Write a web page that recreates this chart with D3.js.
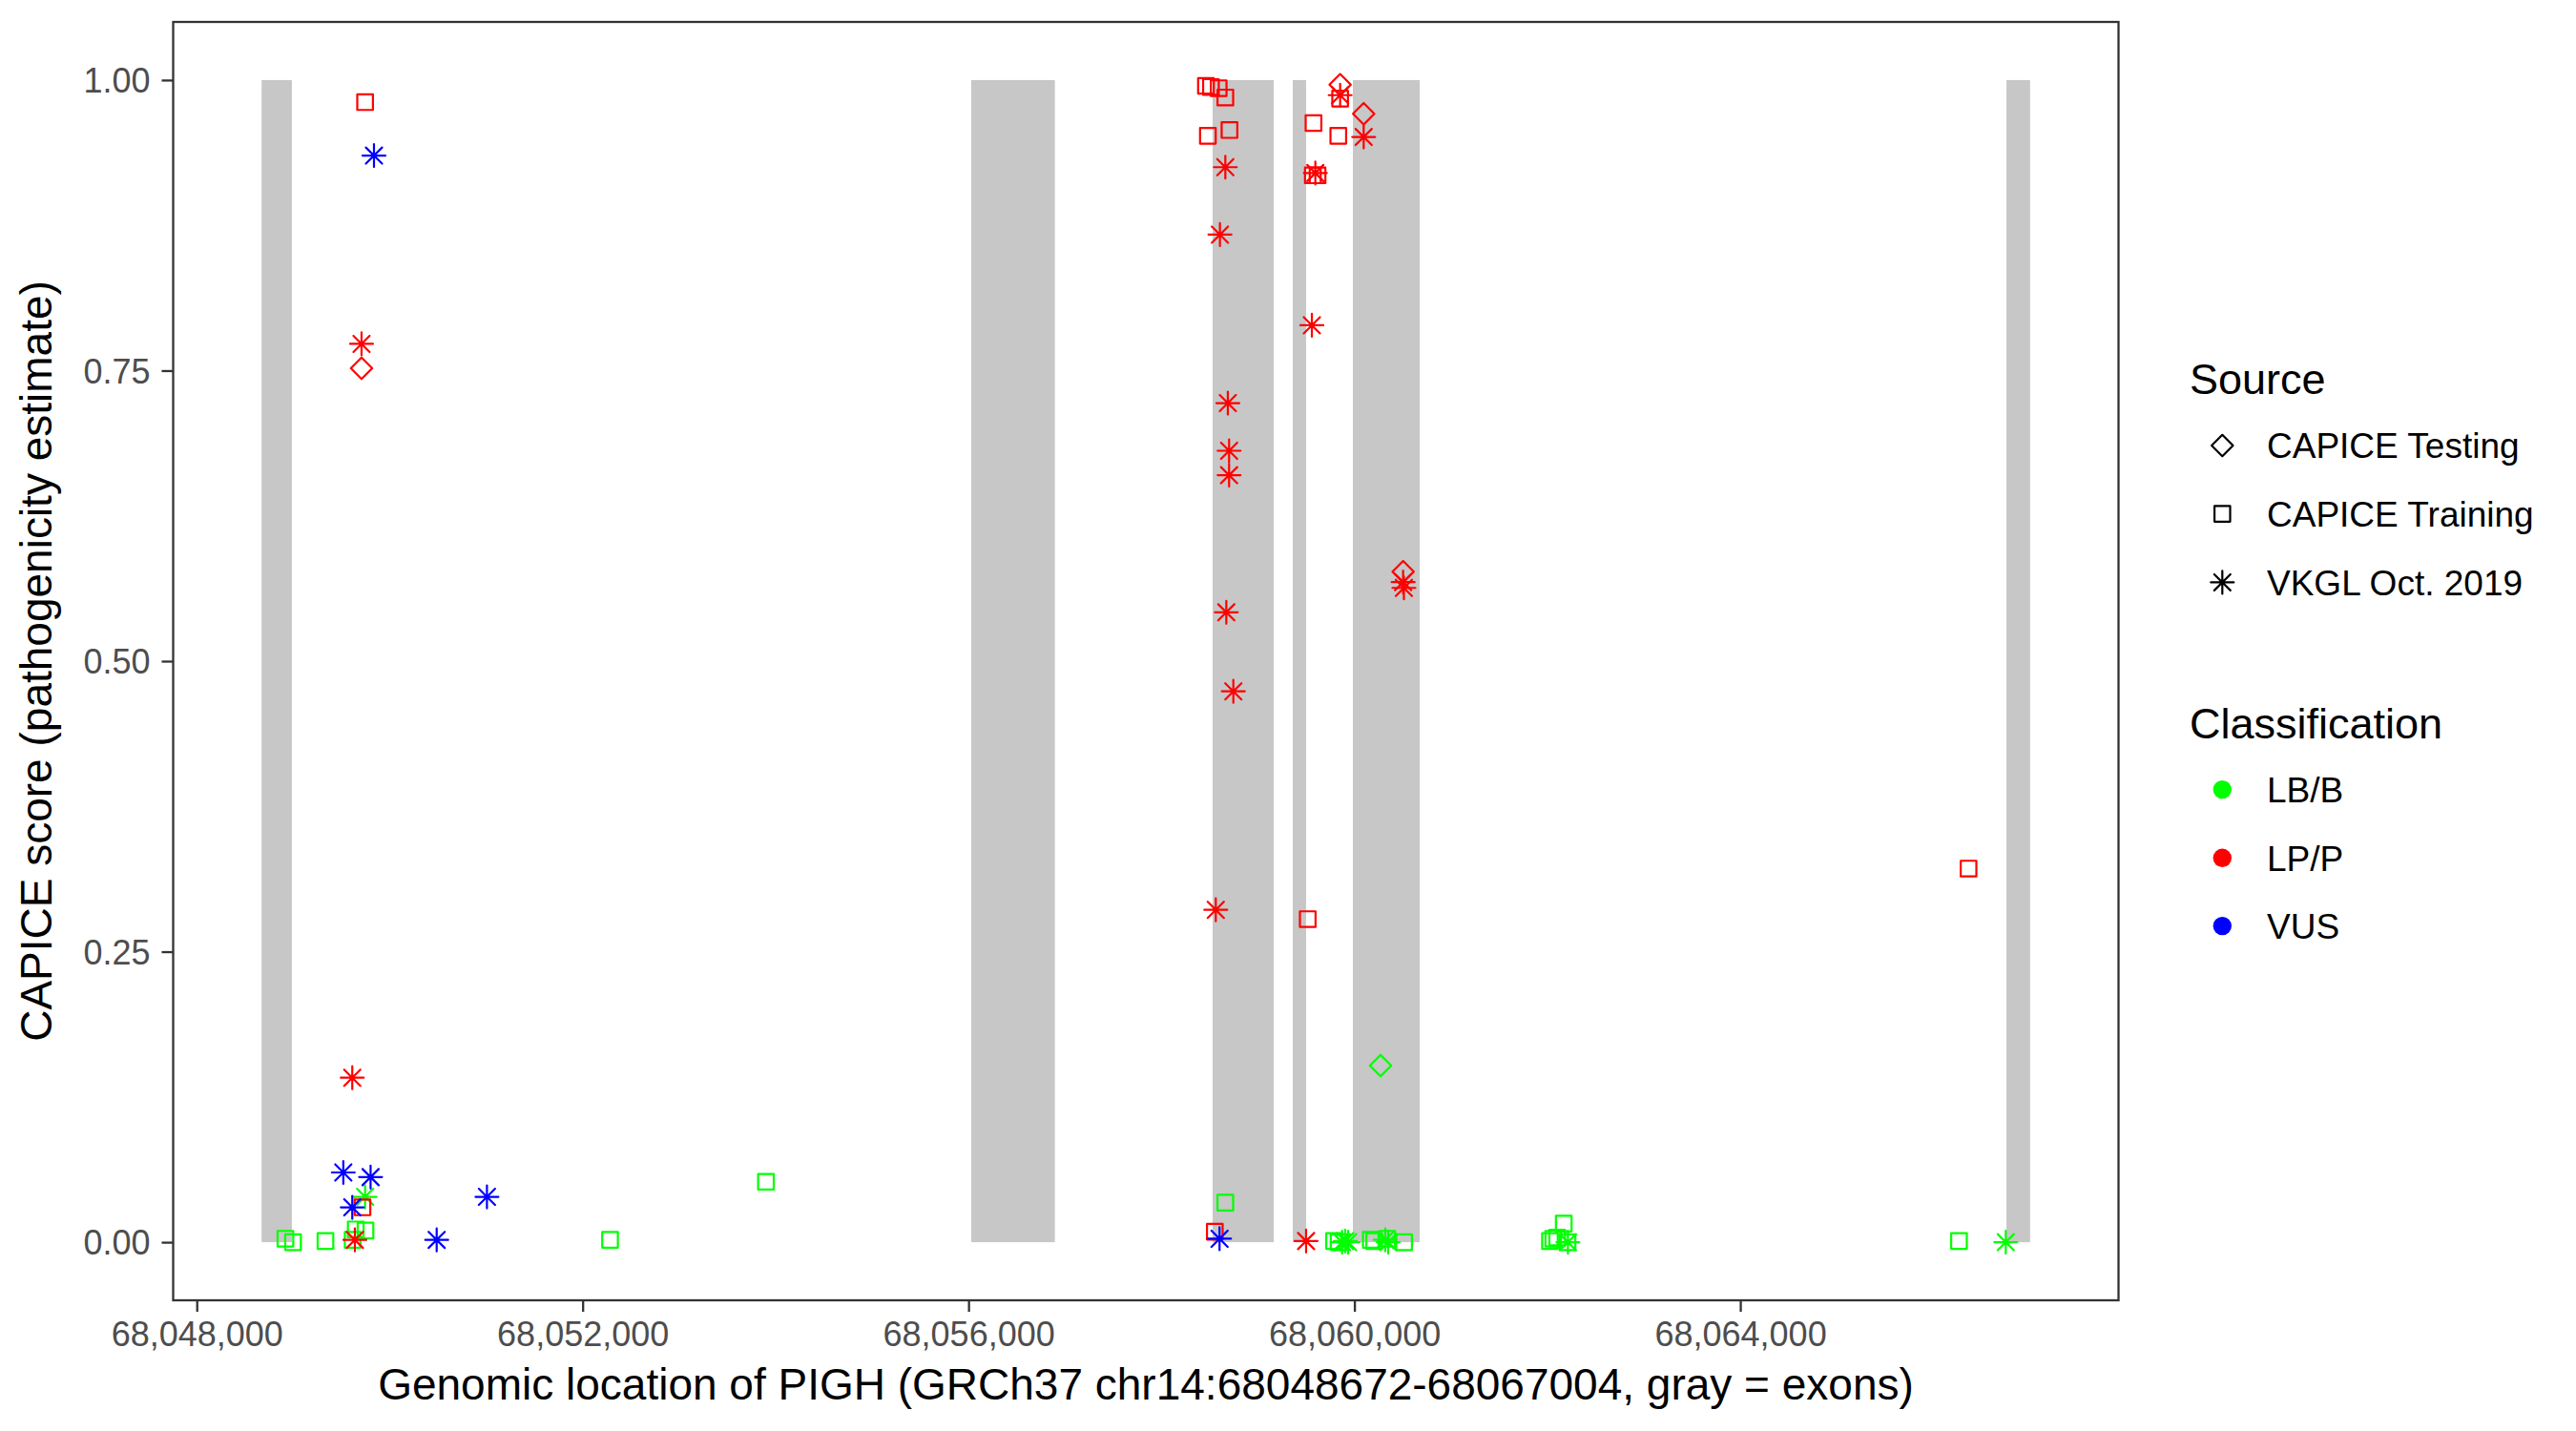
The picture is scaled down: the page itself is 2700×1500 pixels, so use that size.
<!DOCTYPE html>
<html>
<head>
<meta charset="utf-8">
<script src="https://cdn.jsdelivr.net/npm/d3@7"></script>
<style>
  html, body { margin: 0; padding: 0; background: #ffffff; }
  svg { display: block; font-family: "Liberation Sans", Arial, Helvetica, sans-serif; }
</style>
</head>
<body>
<svg id="chart" width="2700" height="1500"></svg>
<script>
// ---------------- data ----------------
const geneStart = 68048672;
const geneEnd = 68067004;

const exonStarts = [68048672, 68056028, 68058530, 68059361, 68059984, 68066759];
const exonEnds   = [68048986, 68056895, 68059163, 68059499, 68060676, 68067004];

const xTicks = [68048000, 68052000, 68056000, 68060000, 68064000];
const yTicks = [0, 0.25, 0.5, 0.75, 1.0];

const sourceLevels = ["CAPICE Testing", "CAPICE Training", "VKGL Oct. 2019"];
const classLevels = ["LB/B", "LP/P", "VUS"];
const classColors = ["#00FF00", "#FF0000", "#0000FF"];

// variants: genomic position, CAPICE score, source, classification
const positions = [
  // LB/B - CAPICE Training
  68048919, 68048998, 68049334, 68049648, 68049749, 68049616, 68052284, 68053900,
  68058662, 68059789, 68059836, 68060170, 68060205, 68060340, 68060515,
  68062027, 68062061, 68062102, 68062170, 68062209, 68066267,
  // LB/B - VKGL
  68049745, 68059872, 68059905, 68059935, 68060320, 68060350, 68062213, 68066752,
  // LB/B - CAPICE Testing
  68060271,
  // LP/P - CAPICE Training
  68049745, 68049718, 68058461, 68058513, 68058593, 68058662, 68058481, 68058705,
  68059576, 68059569, 68059618, 68059852, 68059833, 68059516, 68058553, 68066366,
  // LP/P - VKGL
  68049708, 68049612, 68049639, 68058662, 68058606, 68059559, 68058688, 68058701,
  68058701, 68058672, 68058745, 68059595, 68059852, 68060096, 68060505, 68060513,
  68058563, 68059499,
  // LP/P - CAPICE Testing
  68049708, 68059852, 68060096, 68060505,
  // VUS - VKGL
  68049837, 68049519, 68049802, 68049612, 68050487, 68051008, 68058602
];
const scores = [
  0.003, 0.000, 0.001, 0.011, 0.010, 0.002, 0.002, 0.052,
  0.034, 0.001, 0.000, 0.002, 0.001, 0.003, 0.000,
  0.001, 0.003, 0.004, 0.016, 0.000, 0.001,
  0.039, 0.000, 0.001, 0.000, 0.002, 0.000, 0.000, 0.000,
  0.152,
  0.981, 0.030, 0.995, 0.994, 0.993, 0.985, 0.952, 0.957,
  0.963, 0.918, 0.918, 0.984, 0.952, 0.278, 0.009, 0.3215,
  0.773, 0.1415, 0.002, 0.925, 0.867, 0.789, 0.722, 0.681,
  0.660, 0.542, 0.474, 0.920, 0.987, 0.951, 0.568, 0.563,
  0.286, 0.001,
  0.752, 0.996, 0.971, 0.577,
  0.935, 0.060, 0.056, 0.030, 0.002, 0.039, 0.003
];
const sources = [
  "CAPICE Training","CAPICE Training","CAPICE Training","CAPICE Training","CAPICE Training","CAPICE Training","CAPICE Training","CAPICE Training",
  "CAPICE Training","CAPICE Training","CAPICE Training","CAPICE Training","CAPICE Training","CAPICE Training","CAPICE Training",
  "CAPICE Training","CAPICE Training","CAPICE Training","CAPICE Training","CAPICE Training","CAPICE Training",
  "VKGL Oct. 2019","VKGL Oct. 2019","VKGL Oct. 2019","VKGL Oct. 2019","VKGL Oct. 2019","VKGL Oct. 2019","VKGL Oct. 2019","VKGL Oct. 2019",
  "CAPICE Testing",
  "CAPICE Training","CAPICE Training","CAPICE Training","CAPICE Training","CAPICE Training","CAPICE Training","CAPICE Training","CAPICE Training",
  "CAPICE Training","CAPICE Training","CAPICE Training","CAPICE Training","CAPICE Training","CAPICE Training","CAPICE Training","CAPICE Training",
  "VKGL Oct. 2019","VKGL Oct. 2019","VKGL Oct. 2019","VKGL Oct. 2019","VKGL Oct. 2019","VKGL Oct. 2019","VKGL Oct. 2019","VKGL Oct. 2019",
  "VKGL Oct. 2019","VKGL Oct. 2019","VKGL Oct. 2019","VKGL Oct. 2019","VKGL Oct. 2019","VKGL Oct. 2019","VKGL Oct. 2019","VKGL Oct. 2019",
  "VKGL Oct. 2019","VKGL Oct. 2019",
  "CAPICE Testing","CAPICE Testing","CAPICE Testing","CAPICE Testing",
  "VKGL Oct. 2019","VKGL Oct. 2019","VKGL Oct. 2019","VKGL Oct. 2019","VKGL Oct. 2019","VKGL Oct. 2019","VKGL Oct. 2019"
];
const classes = [
  "LB/B","LB/B","LB/B","LB/B","LB/B","LB/B","LB/B","LB/B",
  "LB/B","LB/B","LB/B","LB/B","LB/B","LB/B","LB/B",
  "LB/B","LB/B","LB/B","LB/B","LB/B","LB/B",
  "LB/B","LB/B","LB/B","LB/B","LB/B","LB/B","LB/B","LB/B",
  "LB/B",
  "LP/P","LP/P","LP/P","LP/P","LP/P","LP/P","LP/P","LP/P",
  "LP/P","LP/P","LP/P","LP/P","LP/P","LP/P","LP/P","LP/P",
  "LP/P","LP/P","LP/P","LP/P","LP/P","LP/P","LP/P","LP/P",
  "LP/P","LP/P","LP/P","LP/P","LP/P","LP/P","LP/P","LP/P",
  "LP/P","LP/P",
  "LP/P","LP/P","LP/P","LP/P",
  "VUS","VUS","VUS","VUS","VUS","VUS","VUS"
];

// ---------------- layout ----------------
const panel = { left: 181.5, right: 2220.5, top: 23, bottom: 1363 };
const svg = d3.select("#chart");

const xPad = (geneEnd - geneStart) * 0.05;
const x = d3.scaleLinear()
  .domain([geneStart - xPad, geneEnd + xPad])
  .range([panel.left, panel.right]);
const y = d3.scaleLinear()
  .domain([-0.05, 1.05])
  .range([panel.bottom, panel.top]);

const color = d3.scaleOrdinal().domain(classLevels).range(classColors);

// custom symbol types (size = radius^2)
const symDiamond = { draw(ctx, size) { const r = Math.sqrt(size);
  ctx.moveTo(0, -r); ctx.lineTo(r, 0); ctx.lineTo(0, r); ctx.lineTo(-r, 0); ctx.closePath(); } };
const symSquare = { draw(ctx, size) { const h = Math.sqrt(size);
  ctx.moveTo(-h, -h); ctx.lineTo(h, -h); ctx.lineTo(h, h); ctx.lineTo(-h, h); ctx.closePath(); } };
const symAsterisk = { draw(ctx, size) { const r = Math.sqrt(size); const d = r / Math.SQRT2;
  ctx.moveTo(-r, 0); ctx.lineTo(r, 0);
  ctx.moveTo(0, -r); ctx.lineTo(0, r);
  ctx.moveTo(-d, -d); ctx.lineTo(d, d);
  ctx.moveTo(-d, d); ctx.lineTo(d, -d); } };

const shapeType = d3.scaleOrdinal().domain(sourceLevels).range([symDiamond, symSquare, symAsterisk]);
const shapeSize = d3.scaleOrdinal().domain(sourceLevels).range([11.2 * 11.2, 8.2 * 8.2, 12 * 12]);
const symbolPath = src => d3.symbol().type(shapeType(src)).size(shapeSize(src))();

// panel background
svg.append("rect")
  .attr("x", panel.left).attr("y", panel.top)
  .attr("width", panel.right - panel.left).attr("height", panel.bottom - panel.top)
  .attr("fill", "#FFFFFF");

// exons
svg.append("g").selectAll("rect")
  .data(d3.range(exonStarts.length))
  .join("rect")
  .attr("x", i => x(exonStarts[i]))
  .attr("width", i => x(exonEnds[i]) - x(exonStarts[i]))
  .attr("y", y(1))
  .attr("height", y(0) - y(1))
  .attr("fill", "#C7C7C7");

// points
svg.append("g").selectAll("path")
  .data(d3.range(positions.length))
  .join("path")
  .attr("transform", i => `translate(${x(positions[i])},${y(scores[i])})`)
  .attr("d", i => symbolPath(sources[i]))
  .attr("fill", "none")
  .attr("stroke", i => color(classes[i]))
  .attr("stroke-width", 2.2)
  .attr("stroke-linecap", "round")
  .attr("stroke-linejoin", "round");

// panel border
svg.append("rect")
  .attr("x", panel.left).attr("y", panel.top)
  .attr("width", panel.right - panel.left).attr("height", panel.bottom - panel.top)
  .attr("fill", "none").attr("stroke", "#333333").attr("stroke-width", 2.3);

// axes
const fmt = d3.format(",");
const xAxis = d3.axisBottom(x).tickValues(xTicks).tickFormat(fmt).tickSize(12).tickPadding(10);
const yAxis = d3.axisLeft(y).tickValues(yTicks).tickFormat(d3.format(".2f")).tickSize(12).tickPadding(12);

const gx = svg.append("g").attr("transform", `translate(0,${panel.bottom})`).call(xAxis);
const gy = svg.append("g").attr("transform", `translate(${panel.left},0)`).call(yAxis);
[gx, gy].forEach(g => {
  g.select(".domain").remove();
  g.selectAll(".tick line").attr("stroke", "#333333").attr("stroke-width", 2.3);
  g.selectAll(".tick text").attr("fill", "#4D4D4D").style("font-size", "36px")
    .style("font-family", "'Liberation Sans', Arial, sans-serif");
});
gx.selectAll(".tick text").attr("dy", "0.71em");
gy.selectAll(".tick text").attr("dy", "0.35em");

// axis titles
svg.append("text")
  .attr("x", (panel.left + panel.right) / 2).attr("y", 1467)
  .attr("text-anchor", "middle").attr("fill", "#000000")
  .style("font-size", "46px")
  .text("Genomic location of PIGH (GRCh37 chr14:68048672-68067004, gray = exons)");

svg.append("text")
  .attr("transform", `translate(54,${(panel.top + panel.bottom) / 2}) rotate(-90)`)
  .attr("text-anchor", "middle").attr("fill", "#000000")
  .style("font-size", "46px")
  .text("CAPICE score (pathogenicity estimate)");

// legends
const legX = 2295, keyX = 2329.3, labX = 2376;
const srcTitleY = 413, srcRows = [467, 538.6, 610.4];
const clsTitleY = 774, clsRows = [827.6, 899.3, 970.6];

svg.append("text").attr("x", legX).attr("y", srcTitleY)
  .style("font-size", "45px").attr("fill", "#000").text("Source");
const srcG = svg.append("g").selectAll("g").data(sourceLevels).join("g");
srcG.append("path")
  .attr("transform", (d, i) => `translate(${keyX},${srcRows[i]})`)
  .attr("d", d => symbolPath(d))
  .attr("fill", "none").attr("stroke", "#000").attr("stroke-width", 2.2)
  .attr("stroke-linecap", "round").attr("stroke-linejoin", "round");
srcG.append("text")
  .attr("x", labX).attr("y", (d, i) => srcRows[i]).attr("dy", "0.36em")
  .style("font-size", "37px").attr("fill", "#000").text(d => d);

svg.append("text").attr("x", legX).attr("y", clsTitleY)
  .style("font-size", "45px").attr("fill", "#000").text("Classification");
const clsG = svg.append("g").selectAll("g").data(classLevels).join("g");
clsG.append("circle")
  .attr("cx", keyX).attr("cy", (d, i) => clsRows[i]).attr("r", 9.7)
  .attr("fill", d => color(d));
clsG.append("text")
  .attr("x", labX).attr("y", (d, i) => clsRows[i]).attr("dy", "0.36em")
  .style("font-size", "37px").attr("fill", "#000").text(d => d);
</script>
</body>
</html>
